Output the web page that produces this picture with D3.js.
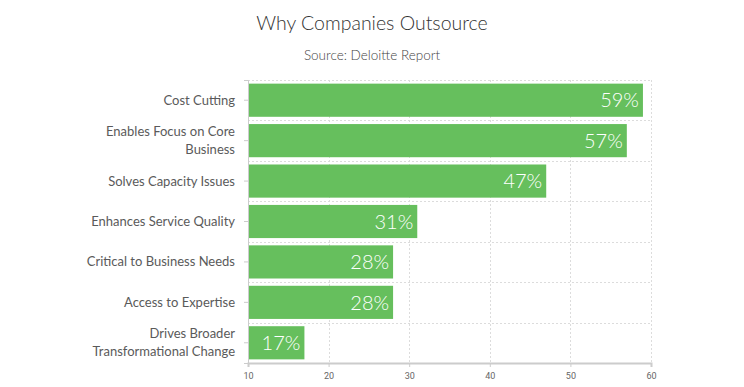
<!DOCTYPE html>
<html>
<head>
<meta charset="utf-8">
<script src="https://cdn.jsdelivr.net/npm/d3@7"></script>
<style>
body { margin: 0; background: #fff; }
</style>
</head>
<body>
<div id="chart"></div>
<script>
var categories = [
	"Cost Cutting",
	"Enables Focus on Core Business",
	"Solves Capacity Issues",
	"Enhances Service Quality",
	"Critical to Business Needs",
	"Access to Expertise",
	"Drives Broader Transformational Change"
];
var labelLines = [
	["Cost Cutting"],
	["Enables Focus on Core", "Business"],
	["Solves Capacity Issues"],
	["Enhances Service Quality"],
	["Critical to Business Needs"],
	["Access to Expertise"],
	["Drives Broader", "Transformational Change"]
];
var values = [59, 57, 47, 31, 28, 28, 17];
var xTicks = [10, 20, 30, 40, 50, 60];

var width = 744, height = 387;
var margin = {top: 80, right: 93, bottom: 24, left: 248};

var svg = d3.select("#chart").append("svg")
	.attr("width", width)
	.attr("height", height);

var x = d3.scaleLinear()
	.domain([10, 60])
	.range([margin.left, width - margin.right]);

var y = d3.scaleBand()
	.domain(categories)
	.range([margin.top, height - margin.bottom])
	.paddingInner(0.18)
	.paddingOuter(0.09);

var plotTop = margin.top, plotBottom = height - margin.bottom;

// grid
var grid = svg.append("g")
	.attr("stroke", "#dcdcdc")
	.attr("stroke-dasharray", "2,2")
	.attr("stroke-width", 1);
grid.selectAll("line.v")
	.data(xTicks.slice(1))
	.enter().append("line")
		.attr("x1", function(d) { return Math.round(x(d)) + 0.5; })
		.attr("x2", function(d) { return Math.round(x(d)) + 0.5; })
		.attr("y1", plotTop)
		.attr("y2", plotBottom);
var step = y.step();
var bounds = d3.range(categories.length).map(function(i) { return y(categories[i]) - y.paddingInner() * step / 2; });
grid.selectAll("line.h")
	.data(bounds)
	.enter().append("line")
		.attr("x1", margin.left)
		.attr("x2", x(60))
		.attr("y1", function(d) { return Math.round(d) + 0.5; })
		.attr("y2", function(d) { return Math.round(d) + 0.5; });

// bars
svg.append("g")
	.selectAll("rect")
	.data(values)
	.enter().append("rect")
		.attr("x", x(10))
		.attr("y", function(d, i) { return y(categories[i]); })
		.attr("width", function(d) { return x(d) - x(10); })
		.attr("height", y.bandwidth())
		.attr("fill", "#66bf5d");

// value labels
svg.append("g")
	.selectAll("text")
	.data(values)
	.enter().append("text")
		.attr("x", function(d) { return x(d) - 4; })
		.attr("y", function(d, i) { return y(categories[i]) + y.bandwidth() / 2; })
		.attr("dy", "0.36em")
		.attr("text-anchor", "end")
		.attr("fill", "#fff")
		.attr("font-family", "Lato, sans-serif")
		.attr("font-weight", 300)
		.attr("font-size", 20)
		.text(function(d) { return d + "%"; });

// x axis
var xAxis = svg.append("g")
	.attr("transform", "translate(0," + plotBottom + ")")
	.call(d3.axisBottom(x).tickValues(xTicks).tickSize(4).tickPadding(6));
xAxis.select(".domain").attr("stroke", "#ccc").attr("stroke-width", 2);
xAxis.selectAll(".tick line").attr("stroke", "#ccc");
xAxis.selectAll("text")
	.attr("fill", "#666")
	.attr("font-family", "Roboto, sans-serif")
	.attr("font-size", 9);

// y axis
var yAxis = svg.append("g")
	.attr("transform", "translate(" + margin.left + ",0)")
	.call(d3.axisLeft(y).tickSize(4).tickFormat(""));
yAxis.select(".domain").attr("stroke", "#ccc");
yAxis.selectAll(".tick line").attr("stroke", "#ccc");

// category labels
var labels = svg.append("g")
	.selectAll("text")
	.data(categories)
	.enter().append("text")
		.attr("text-anchor", "end")
		.attr("fill", "#5a5a5a")
		.attr("font-family", "Lato, sans-serif")
		.attr("font-size", 13)
		.attr("transform", function(d) { return "translate(235," + (y(d) + y.bandwidth() / 2) + ")"; });
labels.each(function(d, i) {
	var lines = labelLines[i];
	var t = d3.select(this);
	lines.forEach(function(l, j) {
		t.append("tspan")
			.attr("x", 0)
			.attr("y", (j - (lines.length - 1) / 2) * 18)
			.attr("dy", "0.35em")
			.text(l);
	});
});

// title
svg.append("text")
	.attr("x", 372)
	.attr("y", 30)
	.attr("text-anchor", "middle")
	.attr("fill", "#333")
	.attr("font-family", "Lato, sans-serif")
	.attr("font-weight", 300)
	.attr("font-size", 19.5)
	.text("Why Companies Outsource");
svg.append("text")
	.attr("x", 372)
	.attr("y", 60)
	.attr("text-anchor", "middle")
	.attr("fill", "#444")
	.attr("font-family", "Lato, sans-serif")
	.attr("font-weight", 300)
	.attr("font-size", 13.5)
	.text("Source: Deloitte Report");
</script>
</body>
</html>
